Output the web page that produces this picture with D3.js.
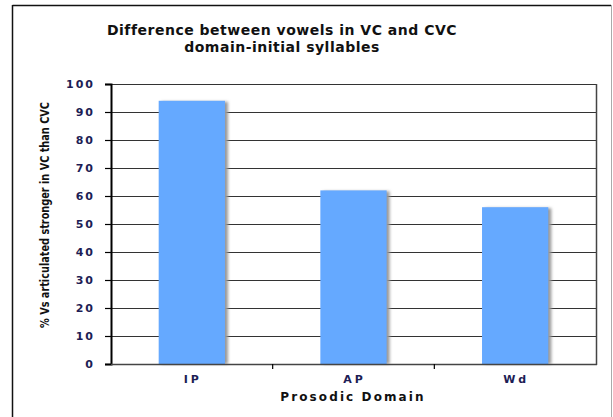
<!DOCTYPE html>
<html>
<head>
<meta charset="utf-8">
<script src="https://cdn.jsdelivr.net/npm/d3@7"></script>
<style>
  body { margin: 0; background: #fff; }
  svg { display: block; }
</style>
</head>
<body>
<div id="chart"></div>
<script>
var categories = ["IP", "AP", "Wd"];
var values = [94, 62, 56];
var yTicks = [0, 10, 20, 30, 40, 50, 60, 70, 80, 90, 100];
var titleLines = ["Difference between vowels in VC and CVC", "domain-initial syllables"];
var yTitle = "% Vs articulated stronger in VC than CVC";
var xTitle = "Prosodic Domain";

var W = 613, H = 417;
var plot = { left: 111, right: 596, top: 84, bottom: 364 };
var labelFont = "'DejaVu Sans', Verdana, sans-serif";

var svg = d3.select("#chart")
  .append("svg")
    .attr("width", W)
    .attr("height", H);

var defs = svg.append("defs");
defs.append("filter")
    .attr("id", "shadow")
    .attr("x", "-20%").attr("y", "-5%")
    .attr("width", "150%").attr("height", "110%")
  .append("feGaussianBlur")
    .attr("stdDeviation", 1.5);

// outer frame
svg.append("line")
    .attr("x1", 12.5).attr("y1", 5.5).attr("x2", 611).attr("y2", 5.5)
    .style("stroke", "#111").style("stroke-width", 1.5);
svg.append("line")
    .attr("x1", 12.5).attr("y1", 5).attr("x2", 12.5).attr("y2", H)
    .style("stroke", "#111").style("stroke-width", 1.5);
svg.append("line")
    .attr("x1", 611.5).attr("y1", 5).attr("x2", 611.5).attr("y2", H)
    .style("stroke", "#aaa").style("stroke-width", 1);

var x = d3.scaleBand()
    .domain(categories)
    .range([plot.left, plot.right])
    .paddingInner(0.59)
    .paddingOuter(0.295);

var xOuter = d3.scaleBand()
    .domain(categories)
    .range([plot.left, plot.right]);

var y = d3.scaleLinear()
    .domain([0, 100])
    .range([plot.bottom, plot.top]);

// gridlines
svg.append("g")
  .selectAll("line")
  .data(yTicks.filter(function(d) { return d > 0; }))
  .enter().append("line")
    .attr("x1", plot.left).attr("x2", plot.right)
    .attr("y1", function(d) { return Math.round(y(d)) + 0.5; })
    .attr("y2", function(d) { return Math.round(y(d)) + 0.5; })
    .style("stroke", "#333")
    .style("stroke-width", 1);

// right plot border
svg.append("line")
    .attr("x1", plot.right + 0.5).attr("x2", plot.right + 0.5)
    .attr("y1", plot.top).attr("y2", plot.bottom + 1)
    .style("stroke", "#444").style("stroke-width", 1.5);

// bar shadows
svg.append("g")
  .selectAll("rect")
  .data(values)
  .enter().append("rect")
    .attr("x", function(d, i) { return x(categories[i]) + 3; })
    .attr("y", function(d) { return y(d) + 1; })
    .attr("width", x.bandwidth())
    .attr("height", function(d) { return plot.bottom - y(d) - 1; })
    .attr("filter", "url(#shadow)")
    .style("fill", "#999");

// bars
svg.append("g")
  .selectAll("rect")
  .data(values)
  .enter().append("rect")
    .attr("x", function(d, i) { return x(categories[i]); })
    .attr("y", function(d) { return y(d); })
    .attr("width", x.bandwidth())
    .attr("height", function(d) { return plot.bottom - y(d); })
    .style("fill", "#65a9ff");

// y axis
var yAxis = svg.append("g")
    .attr("transform", "translate(" + plot.left + ",0)")
    .call(d3.axisLeft(y).tickValues(yTicks).tickSize(6).tickPadding(12));
yAxis.select(".domain").style("stroke", "#000").style("stroke-width", 2);
yAxis.selectAll(".tick line").style("stroke", "#000").style("stroke-width", 1.2);
yAxis.selectAll(".tick text")
    .attr("dx", "2px")
    .style("font-family", labelFont)
    .style("font-weight", "bold")
    .style("font-size", "11px")
    .style("letter-spacing", "2px")
    .style("fill", "#1d1d55");

// x axis
var xAxis = svg.append("g")
    .attr("transform", "translate(0," + plot.bottom + ")");
xAxis.append("line")
    .attr("x1", plot.left).attr("x2", plot.right + 1)
    .attr("y1", 0.5).attr("y2", 0.5)
    .style("stroke", "#444").style("stroke-width", 1.5);
xAxis.selectAll(".xt")
  .data(categories.slice(1))
  .enter().append("line")
    .attr("class", "xt")
    .attr("x1", function(d) { return xOuter(d); })
    .attr("x2", function(d) { return xOuter(d); })
    .attr("y1", 0).attr("y2", 5)
    .style("stroke", "#000").style("stroke-width", 1.2);
xAxis.selectAll(".xl")
  .data(categories)
  .enter().append("text")
    .attr("class", "xl")
    .attr("x", function(d) { return x(d) + x.bandwidth() / 2 + 1; })
    .attr("y", 19)
    .attr("text-anchor", "middle")
    .style("font-family", labelFont)
    .style("font-weight", "bold")
    .style("font-size", "11px")
    .style("letter-spacing", "3px")
    .style("fill", "#1d1d55")
    .text(function(d) { return d; });

// axis titles
svg.append("text")
    .attr("x", 353)
    .attr("y", 401)
    .attr("text-anchor", "middle")
    .style("font-family", labelFont)
    .style("font-weight", "bold")
    .style("font-size", "12px")
    .style("letter-spacing", "2.1px")
    .style("fill", "#111")
    .text(xTitle);

svg.append("text")
    .attr("transform", "translate(49,215) rotate(-90)")
    .attr("text-anchor", "middle")
    .attr("textLength", 226)
    .attr("lengthAdjust", "spacingAndGlyphs")
    .style("font-family", "'DejaVu Sans Condensed', 'DejaVu Sans', sans-serif")
    .style("font-weight", "bold")
    .style("font-size", "12px")
    .style("fill", "#111")
    .text(yTitle);

// chart title
svg.append("g")
  .selectAll("text")
  .data(titleLines)
  .enter().append("text")
    .attr("x", 282)
    .attr("y", function(d, i) { return 35 + i * 16.5; })
    .attr("text-anchor", "middle")
    .style("font-family", labelFont)
    .style("font-weight", "bold")
    .style("font-size", "14px")
    .style("letter-spacing", "0.5px")
    .style("fill", "#111")
    .text(function(d) { return d; });
</script>
</body>
</html>
